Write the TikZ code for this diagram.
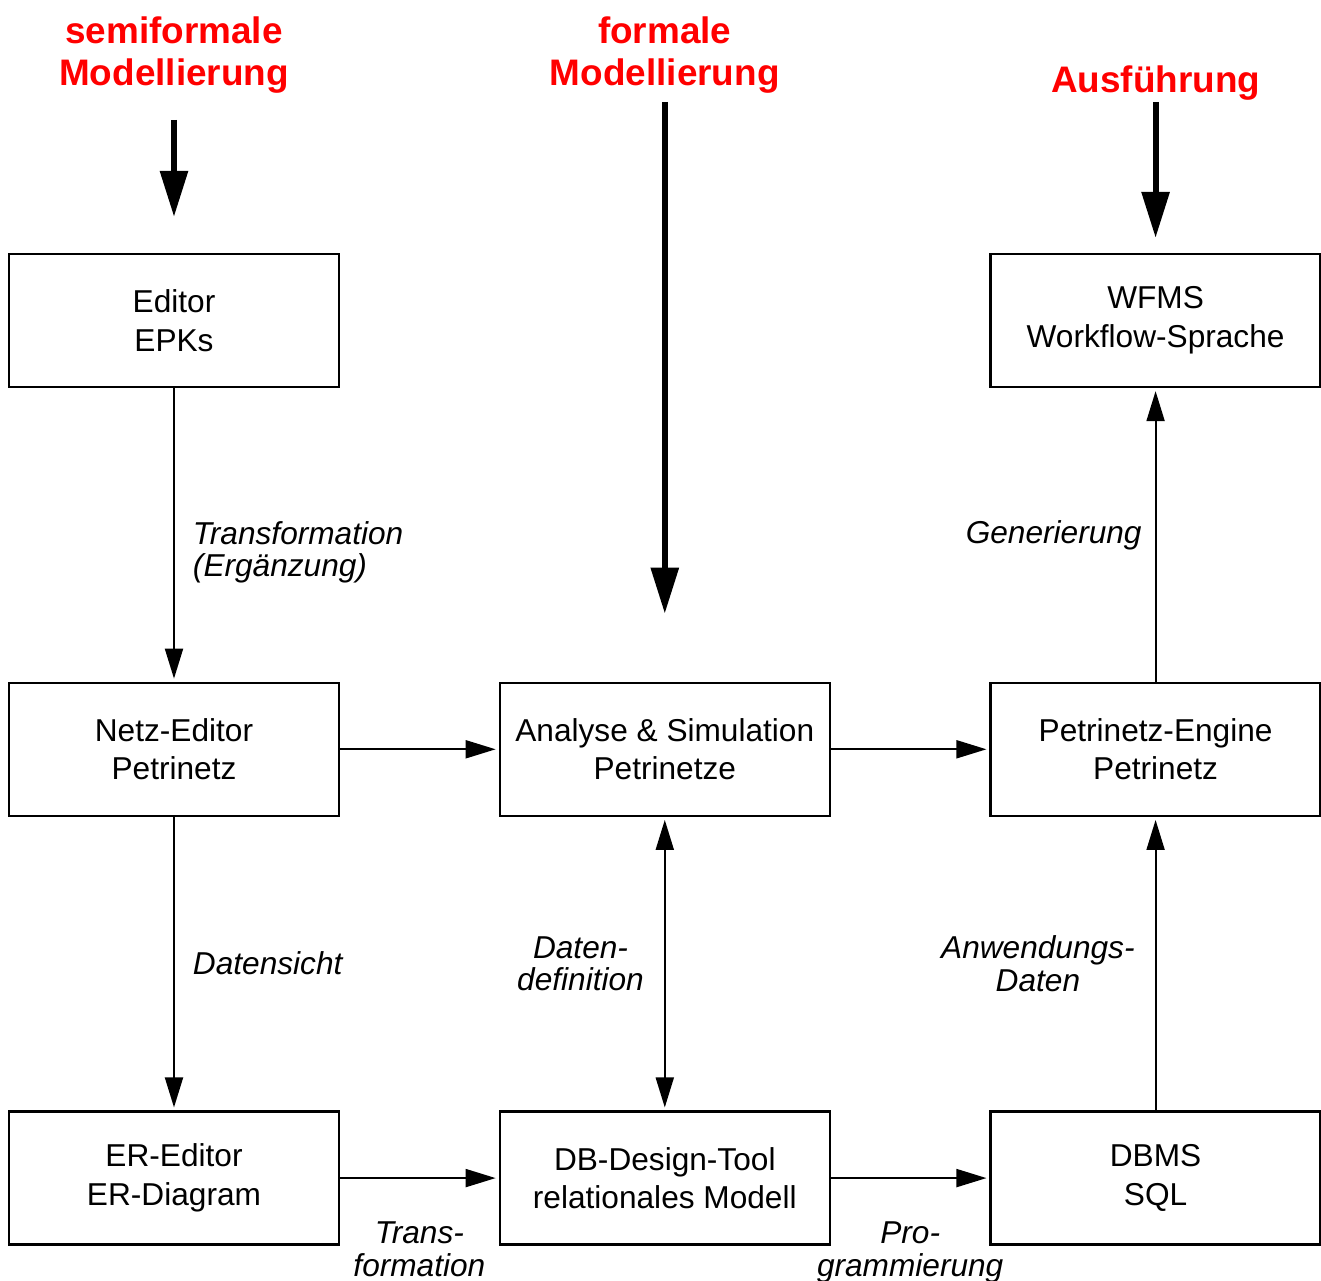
\documentclass[tikz,border=0pt]{standalone}
\usepackage{fontspec}
\setmainfont{Liberation Sans}
\usepackage{xcolor}
\usetikzlibrary{arrows.meta, positioning}
\definecolor{titlered}{RGB}{255, 0, 0}

\begin{document}
\begin{tikzpicture}[
  box/.style={draw, line width=1.3pt, minimum width=6.6cm, minimum height=2.66cm,
              font=\fontsize{18}{22}\selectfont, align=center},
  title/.style={text=titlered, font=\fontsize{21}{24}\selectfont\bfseries,
                align=center, inner sep=0pt},
  lbl/.style={font=\fontsize{18}{18.5}\selectfont\itshape, inner sep=0pt},
  arrow/.style={-{Triangle[length=0.6cm, width=0.36cm]}, line width=1.1pt, shorten >=0.06cm},
  dblarrow/.style={{Triangle[length=0.6cm, width=0.36cm]}-{Triangle[length=0.6cm, width=0.36cm]},
                   line width=1.1pt, shorten >=0.06cm, shorten <=0.06cm},
  bigarrow/.style={-{Triangle[length=0.92cm, width=0.54cm]}, line width=3.4pt}
]
\useasboundingbox (-3.48,6.41) rectangle (22.94,-19.19);

% Row 1
\node[box] (editor) {Editor\\EPKs};

% Row 2
\node[box, below=5.87cm of editor] (netz) {Netz-Editor\\Petrinetz};
\node[box, right=3.17cm of netz] (analyse) {Analyse \& Simulation\\Petrinetze};
\node[box, right=3.17cm of analyse] (engine) {Petrinetz-Engine\\Petrinetz};
\node[box, above=5.87cm of engine] (wfms) {WFMS\\Workflow-Sprache};

% Row 3
\node[box, below=5.87cm of netz] (er) {ER-Editor\\ER-Diagram};
\node[box, right=3.17cm of er] (db) {DB-Design-Tool\\relationales Modell};
\node[box, right=3.17cm of db] (dbms) {DBMS\\SQL};

% Titles
\node[title, above=3.18cm of editor] (semi) {semiformale\\Modellierung};
\node[title] (formal) at (semi -| analyse) {formale\\Modellierung};
\node[title, above=3.04cm of wfms] (exec) {Ausführung};

% Title arrows
\draw[bigarrow, shorten <=0.52cm, shorten >=0.72cm] (semi) -- (editor);
\draw[bigarrow, shorten <=0.16cm, shorten >=1.36cm] (formal) -- (analyse);
\draw[bigarrow, shorten <=0.02cm, shorten >=0.3cm] (exec) -- (wfms);

% Arrows
\draw[arrow] (editor) -- node[lbl, pos=0.56, right=0.36cm, align=left]{Transformation\\(Ergänzung)} (netz);
\draw[arrow] (netz) -- node[lbl, right=0.36cm]{Datensicht} (er);
\draw[arrow] (netz) -- (analyse);
\draw[arrow] (analyse) -- (engine);
\draw[arrow] (engine) -- node[lbl, left=0.26cm]{Generierung} (wfms);
\draw[arrow] (er) -- node[lbl, below=0.86cm, align=center]{Trans-\\formation} (db);
\draw[arrow] (db) -- node[lbl, below=0.86cm, align=center]{Pro-\\grammierung} (dbms);
\draw[dblarrow] (db) -- node[lbl, left=0.4cm, align=center]{Daten-\\definition} (analyse);
\draw[arrow] (dbms) -- node[lbl, left=0.4cm, align=center]{Anwendungs-\\Daten} (engine);

\end{tikzpicture}
\end{document}
